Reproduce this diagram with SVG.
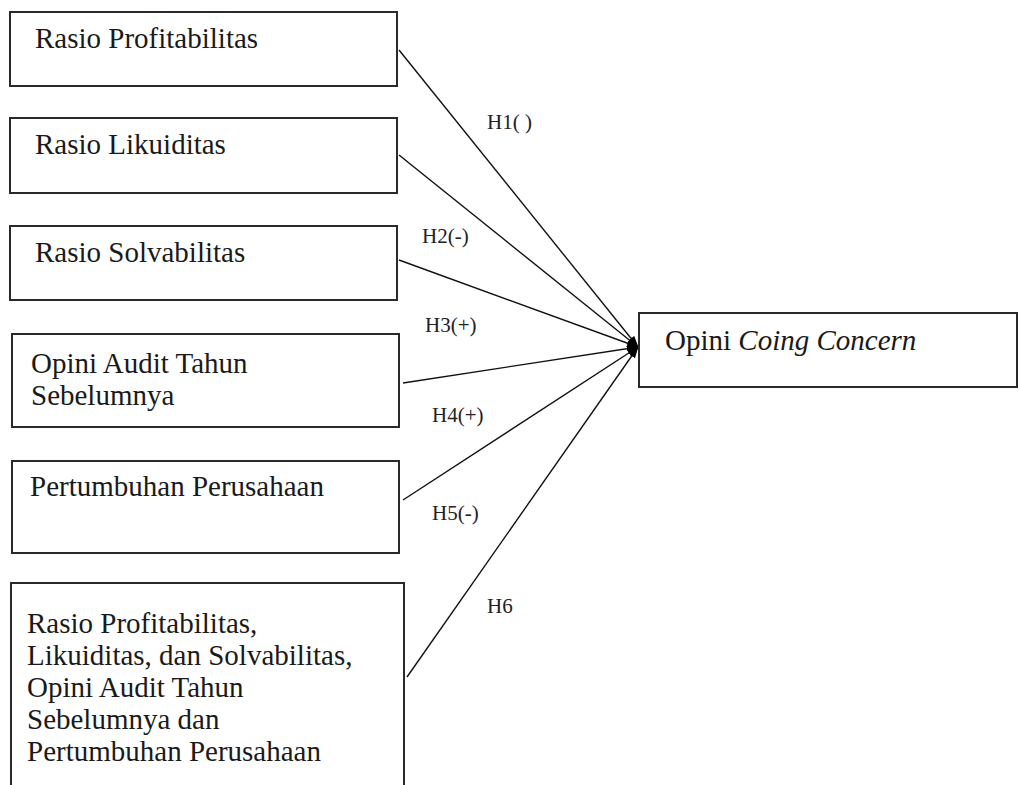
<svg xmlns="http://www.w3.org/2000/svg" width="1020" height="785" viewBox="0 0 1020 785">
<style>
.box{fill:#fff;stroke:#2a2a2a;stroke-width:2}
.t{font-family:"Liberation Serif","Times New Roman",serif;font-size:29px;fill:#1a1a1a}
.lbl{font-family:"Liberation Serif","Times New Roman",serif;font-size:21px;fill:#222}
.conn{stroke:#111;stroke-width:1.4;fill:none}
</style>
<defs>
<marker id="arr" markerWidth="12" markerHeight="10" refX="11" refY="5" orient="auto" markerUnits="userSpaceOnUse">
<path d="M0,1 L12,5 L0,9 Z" fill="#000"/>
</marker>
</defs>
<rect width="1020" height="785" fill="#fff"/>
<g id="connectors">
<line class="conn" x1="399" y1="50" x2="638" y2="347" marker-end="url(#arr)"/>
<line class="conn" x1="399" y1="155" x2="638" y2="347" marker-end="url(#arr)"/>
<line class="conn" x1="399" y1="260" x2="638" y2="347" marker-end="url(#arr)"/>
<line class="conn" x1="403" y1="383" x2="638" y2="347" marker-end="url(#arr)"/>
<line class="conn" x1="403" y1="500" x2="638" y2="347" marker-end="url(#arr)"/>
<line class="conn" x1="407" y1="677" x2="638" y2="347" marker-end="url(#arr)"/>
<text class="lbl" x="487" y="129">H1( )</text>
<text class="lbl" x="422" y="243">H2(-)</text>
<text class="lbl" x="425" y="332">H3(+)</text>
<text class="lbl" x="432" y="422">H4(+)</text>
<text class="lbl" x="432" y="520">H5(-)</text>
<text class="lbl" x="487" y="613">H6</text>
</g>
<g id="n1">
<rect class="box" x="10" y="12" width="387" height="74"/>
<text class="t" x="35" y="48">Rasio Profitabilitas</text>
</g>
<g id="n2">
<rect class="box" x="10" y="118" width="387" height="75"/>
<text class="t" x="35" y="154">Rasio Likuiditas</text>
</g>
<g id="n3">
<rect class="box" x="10" y="226" width="387" height="74"/>
<text class="t" x="35" y="262">Rasio Solvabilitas</text>
</g>
<g id="n4">
<rect class="box" x="12" y="334" width="387" height="93"/>
<text class="t" x="31" y="373">Opini Audit Tahun</text>
<text class="t" x="31" y="405">Sebelumnya</text>
</g>
<g id="n5">
<rect class="box" x="12" y="461" width="387" height="92"/>
<text class="t" x="30" y="496">Pertumbuhan Perusahaan</text>
</g>
<g id="n6">
<rect class="box" x="11" y="583" width="393" height="220"/>
<text class="t" x="27" y="633">Rasio Profitabilitas,</text>
<text class="t" x="27" y="665">Likuiditas, dan Solvabilitas,</text>
<text class="t" x="27" y="697">Opini Audit Tahun</text>
<text class="t" x="27" y="729">Sebelumnya dan</text>
<text class="t" x="27" y="761">Pertumbuhan Perusahaan</text>
</g>
<g id="target">
<rect class="box" x="639" y="313" width="378" height="74"/>
<text class="t" x="665" y="350">Opini <tspan font-style="italic">Coing Concern</tspan></text>
</g>
</svg>
